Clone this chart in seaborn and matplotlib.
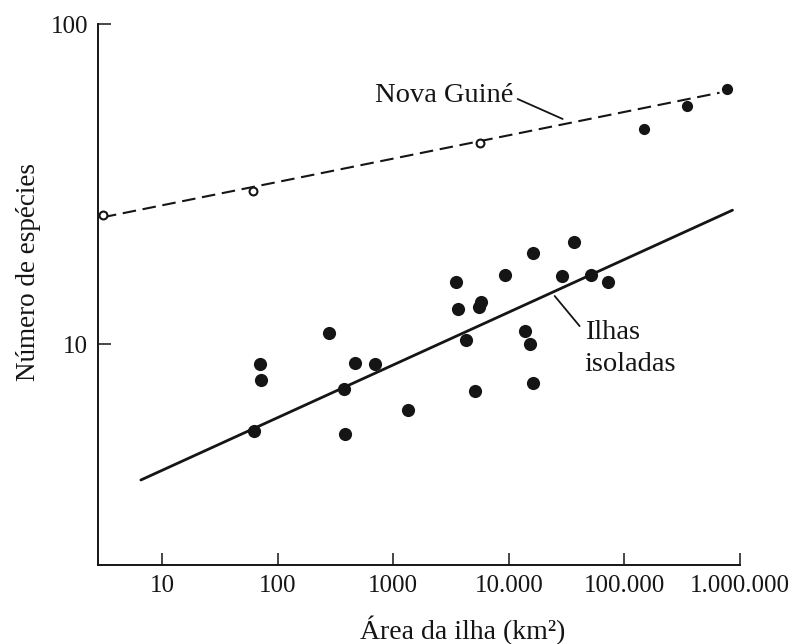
import numpy as np
import pandas as pd
import matplotlib
matplotlib.use("Agg")
import matplotlib.pyplot as plt
import seaborn as sns

# Isolated islands (filled dots)
ilhas_area = [70.7, 71.7, 62.8, 276, 374, 384, 469, 698, 1356, 3498, 3667, 5493,
              5798, 4300, 5104, 9347, 16190, 36900, 28660, 51040, 72600, 13920,
              15370, 16190]
ilhas_especies = [8.64, 7.72, 5.34, 10.85, 7.25, 5.23, 8.74, 8.68, 6.21, 15.65,
                  12.89, 13.02, 13.56, 10.31, 7.15, 16.39, 19.25, 20.87, 16.27,
                  16.39, 15.59, 10.98, 10.0, 7.55]
# fitted line for isolated islands (end points)
ilhas_fit_area = [6.58, 861000]
ilhas_fit_especies = [3.76, 26.2]

# New Guinea areas
ng_area = [3.09, 61.2, 5604, 147400, 347000, 775000]
ng_especies = [25.3, 30.1, 42.5, 47.0, 55.4, 62.7]
ng_aberto = [True, True, True, False, False, False]
ng_fit_area = [3.09, 665000]
ng_fit_especies = [24.9, 61.0]

xticks = [10, 100, 1000, 10000, 100000, 1000000]
xtick_labels = ["10", "100", "1000", "10.000", "100.000", "1.000.000"]
yticks = [10, 100]
ytick_labels = ["10", "100"]

ink = "#151515"

sns.set_style("ticks")
plt.rcParams["font.family"] = ["Liberation Serif", "DejaVu Serif"]

fig = plt.figure(figsize=(7.94, 6.44), dpi=100)
ax = fig.add_axes([0.1234, 0.1227, 0.932 - 0.1234, 0.9627 - 0.1227])
ax.set_xscale("log")
ax.set_yscale("log")

ilhas = pd.DataFrame({"area": ilhas_area, "especies": ilhas_especies})
ng = pd.DataFrame({"area": ng_area, "especies": ng_especies, "aberto": ng_aberto})

# fitted lines
sns.lineplot(x=ilhas_fit_area, y=ilhas_fit_especies, color=ink, lw=2.0,
             estimator=None, sort=False, ax=ax, zorder=2)
sns.lineplot(x=ng_fit_area, y=ng_fit_especies, color=ink, lw=1.5,
             linestyle=(0, (6.5, 3.2)), estimator=None, sort=False, ax=ax, zorder=2)

# points
sns.scatterplot(data=ilhas, x="area", y="especies", s=90, color=ink,
                linewidth=0, ax=ax, zorder=3)
sns.scatterplot(data=ng[~ng["aberto"]], x="area", y="especies", s=65, color=ink,
                linewidth=0, ax=ax, zorder=3)
sns.scatterplot(data=ng[ng["aberto"]], x="area", y="especies", s=32,
                facecolor="white", edgecolor=ink, linewidth=1.5, ax=ax, zorder=3)

# labels with leader lines
ax.text(700, 57.0, "Nova Guiné", fontsize=20.5, color=ink, va="baseline", ha="left")
ax.annotate("", xy=(29240, 50.5), xytext=(11940, 58.3),
            arrowprops=dict(arrowstyle="-", color=ink, lw=1.3, shrinkA=0, shrinkB=0))
ax.text(45300, 10.36, "Ilhas", fontsize=20.5, color=ink, va="baseline", ha="left")
ax.text(45300, 8.234, "isoladas", fontsize=20.5, color=ink, va="baseline", ha="left")
ax.annotate("", xy=(41000, 11.38), xytext=(24950, 14.13),
            arrowprops=dict(arrowstyle="-", color=ink, lw=1.3, shrinkA=0, shrinkB=0))

ax.set_xlim(2.80, 1000000)
ax.set_ylim(2.04, 100)
ax.minorticks_off()
ax.set_xticks(xticks)
ax.set_xticklabels(xtick_labels)
ax.set_yticks(yticks)
ax.set_yticklabels(ytick_labels)
ax.tick_params(axis="both", direction="in", length=9, width=1.1, color=ink,
               labelsize=18, labelcolor=ink, pad=7)

sns.despine(ax=ax)
for s in ["left", "bottom"]:
    ax.spines[s].set_linewidth(1.4)
    ax.spines[s].set_color(ink)

ax.set_xlabel("Área da ilha (km²)", fontsize=20, color=ink)
ax.xaxis.set_label_coords(0.5685, -0.094)
ax.set_ylabel("Número de espécies", fontsize=19.5, color=ink)
ax.yaxis.set_label_coords(-0.0888, 0.5425)

fig.savefig("out.png", dpi=100, facecolor="white")
